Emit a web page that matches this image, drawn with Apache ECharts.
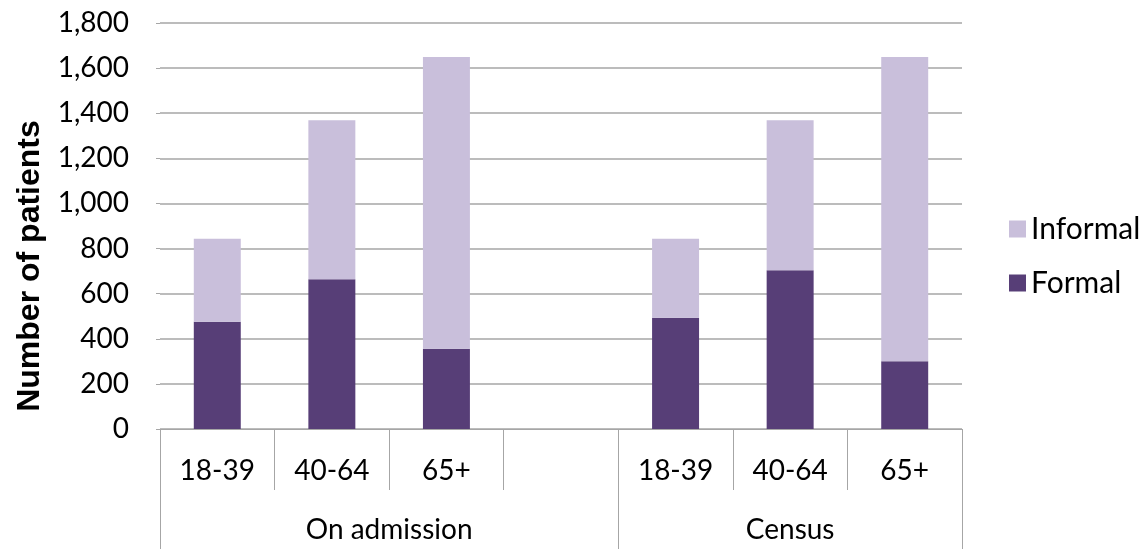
<!DOCTYPE html>
<html>
<head>
<meta charset="utf-8">
<script src="https://cdn.jsdelivr.net/npm/echarts@6/dist/echarts.min.js"></script>
<style>
  html, body { margin: 0; padding: 0; background: #ffffff; }
  #chart { width: 1143px; height: 549px; }
</style>
</head>
<body>
<div id="chart"></div>
<script>
// Age bands per period; the empty slot separates the two groups
const categories = ['18-39', '40-64', '65+', '', '18-39', '40-64', '65+'];
// Group labels and where each group sits on the category slots (slot units)
const groupNames = ['On admission', 'Census'];
const groupCenters = [2, 5.5];
const groupEdges = [0, 4, 7];

const formal = [475, 664, 356, null, 493, 704, 300];
const informal = [368, 705, 1293, null, 350, 665, 1349];

const yTicks = { min: 0, max: 1800, interval: 200 };

const FONT = 'Lato, "Noto Sans", sans-serif';
const GRID_GREY = '#a6a6a6';

const chart = echarts.init(document.getElementById('chart'), null, { renderer: 'canvas' });

chart.setOption({
  animation: false,
  backgroundColor: '#ffffff',
  grid: { left: 160, right: 181, top: 23, bottom: 120, containLabel: false },
  legend: {
    orient: 'vertical',
    left: 1004,
    top: 209,
    itemWidth: 17,
    itemHeight: 17,
    itemGap: 24,
    icon: 'rect',
    data: ['Informal', 'Formal'],
    textStyle: { fontFamily: FONT, fontSize: 30, color: '#000000' }
  },
  xAxis: [
    {
      type: 'category',
      data: categories,
      axisLine: { show: true, lineStyle: { color: GRID_GREY, width: 1 } },
      axisTick: { show: true, interval: 0, length: 61, lineStyle: { color: GRID_GREY } },
      axisLabel: { interval: 0, margin: 28, fontFamily: FONT, fontSize: 28, color: '#000000' },
      splitLine: { show: false }
    },
    {
      type: 'value',
      position: 'bottom',
      min: 0,
      max: 7,
      axisLine: { show: false },
      axisTick: { show: true, customValues: groupEdges, length: 120, lineStyle: { color: GRID_GREY } },
      axisLabel: {
        show: true,
        customValues: groupCenters,
        margin: 87,
        fontFamily: FONT,
        fontSize: 28,
        color: '#000000',
        formatter: function (v) {
          const i = groupCenters.indexOf(v);
          return i >= 0 ? groupNames[i] : '';
        }
      },
      splitLine: { show: false }
    }
  ],
  yAxis: {
    type: 'value',
    min: yTicks.min,
    max: yTicks.max,
    interval: yTicks.interval,
    name: 'Number of patients',
    nameLocation: 'middle',
    nameGap: 114,
    nameTextStyle: {
      fontFamily: '"Liberation Sans", Arial, sans-serif',
      fontWeight: 'bold',
      fontSize: 32,
      color: '#000000',
      // push the title towards the lower end of the axis
      padding: [0, 80, 0, 0]
    },
    axisLine: { show: false },
    axisTick: { show: true, length: 4, lineStyle: { color: GRID_GREY } },
    axisLabel: {
      margin: 31,
      fontFamily: FONT,
      fontSize: 28,
      color: '#000000',
      formatter: function (v) { return v.toLocaleString('en-US'); }
    },
    splitLine: { show: true, lineStyle: { color: GRID_GREY, width: 1.5 } }
  },
  series: [
    {
      name: 'Formal',
      type: 'bar',
      stack: 'patients',
      xAxisIndex: 0,
      data: formal,
      barWidth: '41%',
      itemStyle: { color: '#573e77' }
    },
    {
      name: 'Informal',
      type: 'bar',
      stack: 'patients',
      xAxisIndex: 0,
      data: informal,
      barWidth: '41%',
      itemStyle: { color: '#c9bfdb' }
    }
  ]
});
</script>
</body>
</html>
